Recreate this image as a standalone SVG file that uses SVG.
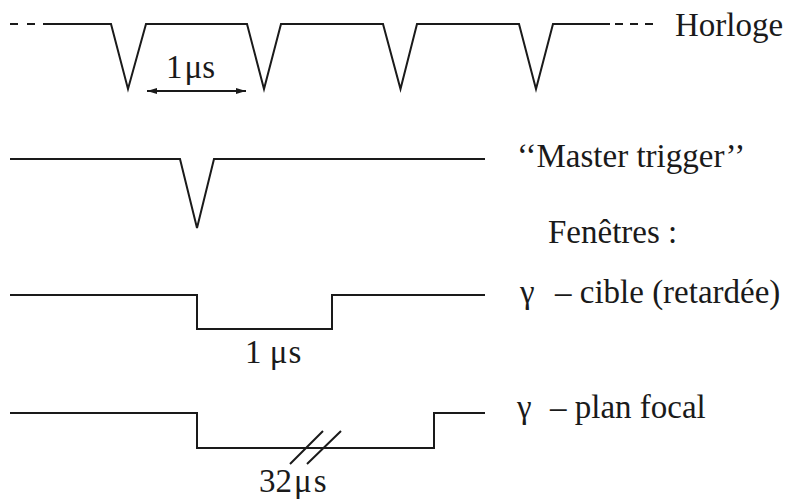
<svg xmlns="http://www.w3.org/2000/svg" width="786" height="499" viewBox="0 0 786 499">
<style>
.w{fill:none;stroke:#1a1a1a;stroke-width:2;stroke-linejoin:miter}
.d{fill:none;stroke:#1a1a1a;stroke-width:2}
</style>
<defs>
<marker id="ah" viewBox="0 0 10 6" refX="10" refY="3" markerWidth="10" markerHeight="6" markerUnits="userSpaceOnUse" orient="auto-start-reverse">
<path d="M0,0 L10,3 L0,6 Z" fill="#1a1a1a"/>
</marker>
</defs>
<rect width="786" height="499" fill="#fff"/>
<g font-family="Liberation Serif, Tinos, DejaVu Serif, Noto Serif, FreeSerif, serif" font-size="33" fill="#1a1a1a">
<g id="horloge">
<path class="d" d="M10,24 H18 M27,24 H35 M43,24 H52 M615,24 H623 M630,24 H638 M645,24 H653"/>
<path class="w" d="M52,24 H111 L128,89 L146,24 H247 L264,89 L281,24 H383 L400.5,89 L417,24 H519 L536,89 L553,24 H610"/>
<text x="675" y="36">Horloge</text>
</g>
<g id="periode">
<line class="d" x1="147" y1="91" x2="246" y2="91" stroke-width="1.5" marker-start="url(#ah)" marker-end="url(#ah)"/>
<text x="166" y="78">1<tspan dx="2">μ</tspan>s</text>
</g>
<g id="master">
<path class="w" d="M10,159 H180 L197,228 L214,159 H485"/>
<text x="517" y="167">‘‘Master trigger’’</text>
</g>
<text x="548" y="243">Fenêtres :</text>
<g id="cible">
<path class="w" d="M10,295 H197 V329 H332 V295 H485"/>
<text x="520" y="303">γ</text>
<text x="555" y="303">– cible (retardée)</text>
<text x="245" y="363">1 μ<tspan dx="1">s</tspan></text>
</g>
<g id="focal">
<path class="w" d="M10,413 H197 V448 H434 V413 H485"/>
<path class="d" d="M290,464 L323,431 M307,464 L341,431" stroke-width="1.6"/>
<text x="517" y="418">γ</text>
<text x="550" y="418">– plan focal</text>
<text x="259" y="492">32<tspan dx="2">μ</tspan><tspan dx="2">s</tspan></text>
</g>
</g>
</svg>
